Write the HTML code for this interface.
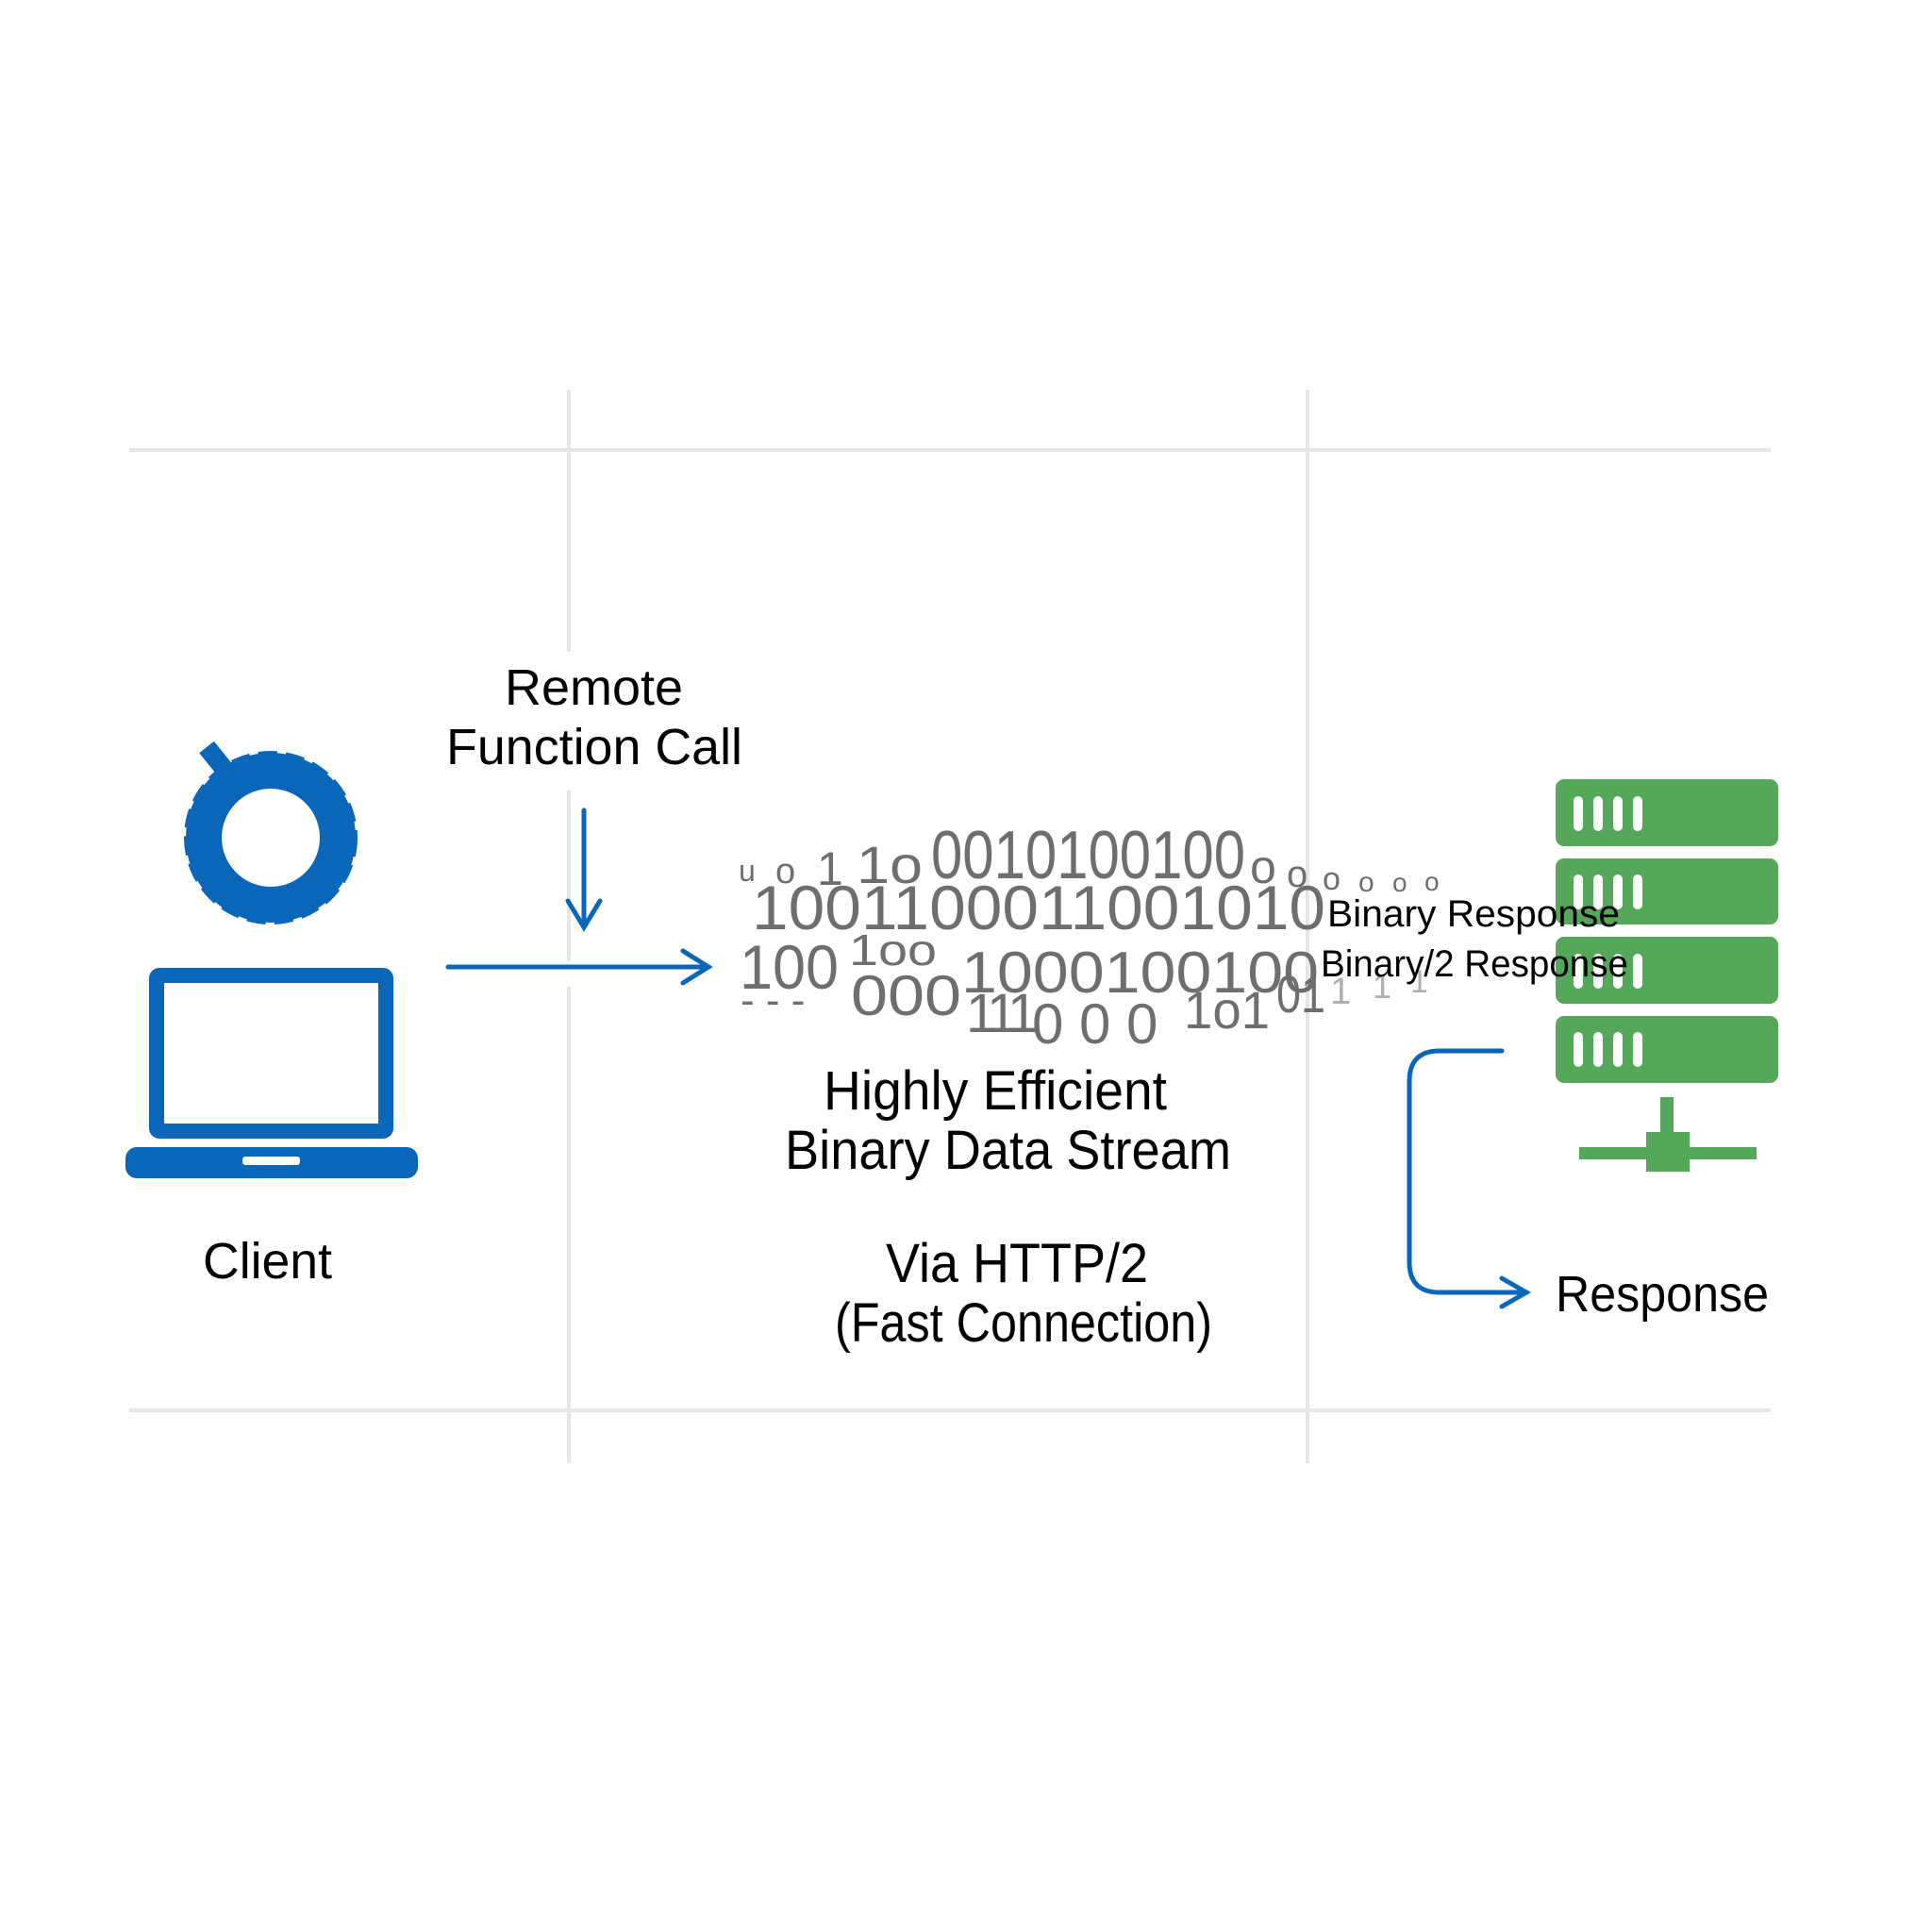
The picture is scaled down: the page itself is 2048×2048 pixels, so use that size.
<!DOCTYPE html>
<html><head><meta charset="utf-8"><style>
html,body{margin:0;padding:0;background:#fff;}
svg{display:block;}
text{font-family:"Liberation Sans",sans-serif;}
</style></head><body>
<svg width="2048" height="2048" viewBox="0 0 2048 2048" xmlns="http://www.w3.org/2000/svg">
<rect width="2048" height="2048" fill="#fff"/>
<g stroke="#e6e6e6" stroke-width="4" fill="none">
<line x1="137" y1="477" x2="1877" y2="477"/>
<line x1="137" y1="1495" x2="1877" y2="1495"/>
<line x1="603" y1="413" x2="603" y2="691"/>
<line x1="603" y1="838" x2="603" y2="1019"/>
<line x1="603" y1="1046" x2="603" y2="1551"/>
<line x1="1386" y1="413" x2="1386" y2="1551"/>
</g>
<line x1="219" y1="792" x2="240" y2="818" stroke="#0a66b8" stroke-width="20"/>
<circle cx="287" cy="888" r="71" fill="none" stroke="#0a66b8" stroke-width="38"/>
<circle cx="287" cy="888" r="89" fill="none" stroke="#0a66b8" stroke-width="6" stroke-dasharray="20 9"/>
<rect x="166" y="1034" width="243" height="165" fill="none" stroke="#0a66b8" stroke-width="16" rx="3"/>
<rect x="133" y="1216" width="310" height="33" rx="12" fill="#0a66b8"/>
<rect x="257" y="1226" width="61" height="9" rx="3" fill="#fff"/>
<text x="215" y="1355" font-size="54" textLength="137" lengthAdjust="spacingAndGlyphs">Client</text>
<text x="535" y="747" font-size="54" textLength="189" lengthAdjust="spacingAndGlyphs">Remote</text>
<text x="473" y="810" font-size="54" textLength="314" lengthAdjust="spacingAndGlyphs">Function Call</text>
<g stroke="#0a66b8" stroke-width="5" fill="none" stroke-linecap="round">
<line x1="619" y1="859" x2="619" y2="982"/>
<polyline points="602,955 619,983 636,955"/>
<line x1="475" y1="1025" x2="751" y2="1025"/>
<polyline points="724,1008 751,1025 724,1042"/>
<path d="M1592,1114 H1526 Q1494,1114 1494,1146 V1338 Q1494,1370 1526,1370 H1618"/>
<polyline points="1592,1355 1618,1370 1592,1385"/>
</g>
<g fill="#6e6e6e">
<text font-size="32" x="783" y="934">u</text>
<text font-size="38" x="822" y="936">o</text>
<text font-size="50" x="866" y="938">1</text>
<text font-size="56" x="908" y="936" textLength="70" lengthAdjust="spacingAndGlyphs">1o</text>
<text font-size="72" x="987" y="931" textLength="333" lengthAdjust="spacingAndGlyphs">0010100100</text>
<text font-size="50" x="1325" y="936">o</text>
<text font-size="40" x="1364" y="940">o</text>
<text font-size="34" x="1402" y="943">o</text>
<text font-size="30" x="1440" y="945">o</text>
<text font-size="28" x="1476" y="945">o</text>
<text font-size="28" x="1510" y="944">o</text>
<text font-size="66" x="797" y="985" textLength="608" lengthAdjust="spacingAndGlyphs">1001100011001010</text>
<text font-size="66" x="784" y="1048" textLength="105" lengthAdjust="spacingAndGlyphs">100</text>
<text font-size="46" x="900" y="1023" textLength="93" lengthAdjust="spacingAndGlyphs">1oo</text>
<text font-size="62" x="1019" y="1052" textLength="379" lengthAdjust="spacingAndGlyphs">1000100100</text>
<text font-size="44" x="785" y="1075">-  -  -</text>
<text font-size="60" x="902" y="1076" textLength="117" lengthAdjust="spacingAndGlyphs">000</text>
<text font-size="58" x="1024 1046 1068" y="1094">111</text>
<text font-size="60" x="1094 1144 1194" y="1106">000</text>
<text font-size="56" x="1255" y="1090" textLength="91" lengthAdjust="spacingAndGlyphs">1o1</text>
<text font-size="56" x="1353" y="1073" textLength="52" lengthAdjust="spacingAndGlyphs">01</text>
</g>
<g fill="#b0b0b0"><text font-size="40" x="1410" y="1064">1</text><text font-size="36" x="1455" y="1058">1</text><text font-size="34" x="1495" y="1052">1</text></g>
<g fill="#55a85a">
<rect x="1649" y="826" width="236" height="71" rx="9"/>
<rect x="1649" y="910" width="236" height="70" rx="9"/>
<rect x="1649" y="993" width="236" height="71" rx="9"/>
<rect x="1649" y="1077" width="236" height="71" rx="9"/>
<rect x="1760" y="1163" width="14" height="40"/>
<rect x="1745" y="1200" width="46" height="42"/>
<rect x="1674" y="1216" width="188" height="13"/>
</g>
<g fill="#fff">
<rect x="1668" y="844" width="10" height="37" rx="5"/><rect x="1689" y="844" width="10" height="37" rx="5"/><rect x="1710" y="844" width="10" height="37" rx="5"/><rect x="1731" y="844" width="10" height="37" rx="5"/>
<rect x="1668" y="927" width="10" height="37" rx="5"/><rect x="1689" y="927" width="10" height="37" rx="5"/><rect x="1710" y="927" width="10" height="37" rx="5"/><rect x="1731" y="927" width="10" height="37" rx="5"/>
<rect x="1668" y="1011" width="10" height="37" rx="5"/><rect x="1689" y="1011" width="10" height="37" rx="5"/><rect x="1710" y="1011" width="10" height="37" rx="5"/><rect x="1731" y="1011" width="10" height="37" rx="5"/>
<rect x="1668" y="1094" width="10" height="37" rx="5"/><rect x="1689" y="1094" width="10" height="37" rx="5"/><rect x="1710" y="1094" width="10" height="37" rx="5"/><rect x="1731" y="1094" width="10" height="37" rx="5"/>
</g>
<text x="1407" y="982" font-size="40" textLength="310" lengthAdjust="spacingAndGlyphs">Binary Response</text>
<text x="1400" y="1035" font-size="40" textLength="326" lengthAdjust="spacingAndGlyphs">Binary/2 Response</text>
<text x="1649" y="1390" font-size="54" textLength="226" lengthAdjust="spacingAndGlyphs">Response</text>
<text x="873" y="1176" font-size="58" textLength="364" lengthAdjust="spacingAndGlyphs">Highly Efficient</text>
<text x="832" y="1239" font-size="58" textLength="473" lengthAdjust="spacingAndGlyphs">Binary Data Stream</text>
<text x="939" y="1359" font-size="58" textLength="278" lengthAdjust="spacingAndGlyphs">Via HTTP/2</text>
<text x="885" y="1422" font-size="58" textLength="400" lengthAdjust="spacingAndGlyphs">(Fast Connection)</text>
</svg>
</body></html>
